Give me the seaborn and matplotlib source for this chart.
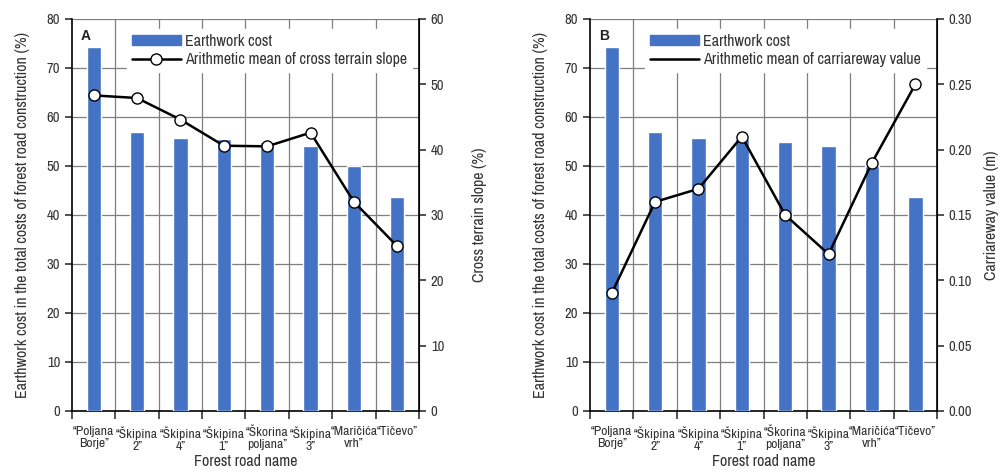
import matplotlib
matplotlib.use("Agg")
import matplotlib.pyplot as plt
from matplotlib.lines import Line2D
from matplotlib.patches import Patch
import seaborn as sns
import pandas as pd
import numpy as np

roads = ["\u201cPoljana\nBorje\u201d", "\u201c\u0160kipina\n2\u201d", "\u201c\u0160kipina\n4\u201d",
         "\u201c\u0160kipina\n1\u201d", "\u201c\u0160korina\npoljana\u201d", "\u201c\u0160kipina\n3\u201d",
         "\u201cMari\u010di\u0107a\nvrh\u201d", "\u201cTi\u010devo\u201d"]
earthwork_cost = [74.3, 57.0, 55.7, 55.5, 54.8, 54.0, 49.9, 43.6]
cross_slope = [48.3, 47.9, 44.6, 40.6, 40.5, 42.6, 32.0, 25.2]
carriageway = [0.09, 0.16, 0.17, 0.21, 0.15, 0.12, 0.19, 0.25]

sns.set_style("white")
plt.rcParams["font.family"] = ["Archivo Narrow", "DejaVu Sans"]
plt.rcParams["text.color"] = "#333333"
plt.rcParams["axes.labelcolor"] = "#333333"
plt.rcParams["xtick.color"] = "#333333"
plt.rcParams["ytick.color"] = "#333333"

df = pd.DataFrame({"road": roads, "cost": earthwork_cost,
                   "slope": cross_slope, "carr": carriageway})

fig = plt.figure(figsize=(10.08, 4.74), dpi=100)
bar_color = "#4472C4"
grid_color = "#7f7f7f"

panels = [
    ("A", [0.0714, 0.133, 0.3443, 0.827], "slope", (0, 60), np.arange(0, 61, 10),
     "Cross terrain slope (%)", "Arithmetic mean of cross terrain slope", True, "{:.0f}", 1.153),
    ("B", [0.5853, 0.133, 0.3443, 0.827], "carr", (0, 0.30), np.arange(0, 0.301, 0.05),
     "Carriareway value (m)", "Arithmetic mean of carriareway value", False, "{:.2f}", 1.135),
]

for letter, pos, col, ylim2, yticks2, ylabel2, line_label, marker_in_legend, fmt, rlab_x in panels:
    ax = fig.add_axes(pos)
    sns.barplot(data=df, x="road", y="cost", color=bar_color, width=0.33,
                saturation=1, ax=ax, zorder=3)
    ax.set_xlim(-0.5, len(roads) - 0.5)
    ax.set_ylim(0, 80)
    ax.set_yticks(np.arange(0, 81, 10))
    # gridlines between categories and every 10 %
    for y in np.arange(10, 81, 10):
        ax.axhline(y, color=grid_color, lw=0.9, zorder=1)
    for xb in np.arange(0.5, len(roads) - 0.5, 1):
        ax.axvline(xb, color=grid_color, lw=0.9, zorder=1)
    ax.set_xticks(np.arange(-0.5, len(roads), 1))
    ax.set_xticklabels([])
    ax.set_xticks(np.arange(len(roads)), minor=True)
    ax.set_xticklabels(roads, minor=True, fontsize=9.8, linespacing=1.1)
    ax.tick_params(axis="x", which="major", length=6, width=1.2, direction="out", bottom=True)
    ax.tick_params(axis="x", which="minor", length=0, pad=11)
    ax.tick_params(axis="y", length=5, width=1.2, direction="out", left=True, labelsize=10.5)
    ax.set_xlabel("Forest road name", fontsize=11.5, labelpad=2)
    ax.set_ylabel("Earthwork cost in the total costs of forest road construction (%)",
                  fontsize=11.5)
    ax.yaxis.set_label_coords(-0.12, 0.5)
    ax.spines["top"].set_visible(False)
    for s in ["left", "bottom"]:
        ax.spines[s].set_color("black")
        ax.spines[s].set_linewidth(1.2)

    ax2 = ax.twinx()
    sns.pointplot(data=df, x="road", y=col, color="black", markers="o",
                  linewidth=1.8, markersize=8, markerfacecolor="white",
                  markeredgecolor="black", markeredgewidth=1.0, ax=ax2, zorder=5)
    ax2.set_xlim(-0.5, len(roads) - 0.5)
    ax2.set_ylim(*ylim2)
    ax2.set_yticks(yticks2)
    ax2.set_yticklabels([fmt.format(v) for v in yticks2])
    ax2.tick_params(axis="y", length=5, width=1.2, direction="out", right=True, labelsize=10.5)
    ax2.set_ylabel(ylabel2, fontsize=11.5)
    ax2.yaxis.set_label_coords(rlab_x, 0.5)
    ax2.set_xlabel("")
    for s in ["top", "left", "bottom"]:
        ax2.spines[s].set_visible(False)
    ax2.spines["right"].set_color("black")
    ax2.spines["right"].set_linewidth(1.2)

    handles = [
        Patch(facecolor=bar_color, edgecolor=bar_color),
        Line2D([], [], color="black", lw=1.8,
               marker="o" if marker_in_legend else None, markersize=8,
               markerfacecolor="white", markeredgecolor="black"),
    ]
    leg = ax2.legend(handles, ["Earthwork cost", line_label], loc="upper left",
                     bbox_to_anchor=(0.135, 0.995), fontsize=11.5, frameon=True,
                     framealpha=1, edgecolor="white", fancybox=False,
                     handlelength=3.1, handleheight=0.6, borderpad=0.3,
                     labelspacing=0.2, handletextpad=0.25)
    leg.get_frame().set_facecolor("white")
    leg.set_zorder(10)
    ax2.text(0.025, 0.975, letter, transform=ax2.transAxes, fontsize=10,
             fontweight="bold", family="Liberation Sans", va="top", ha="left",
             color="#222222")

fig.savefig("out.png", dpi=100)
